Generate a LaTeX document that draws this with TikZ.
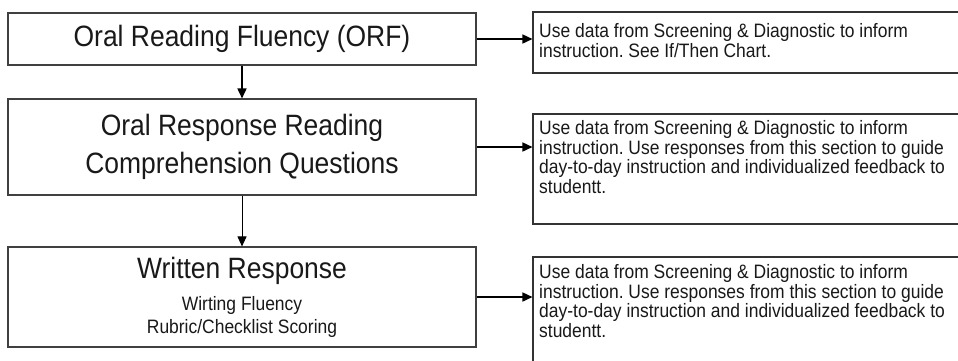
\documentclass[tikz,border=0pt]{standalone}
\usepackage{fontspec}
\setmainfont{Liberation Sans}[FakeStretch=0.9]
\usetikzlibrary{arrows.meta}
\frenchspacing

\begin{document}
\begin{tikzpicture}[x=1pt,y=-1pt,
    stagebox/.style={draw=black!75,line width=1.1pt,minimum width=468pt,inner sep=0pt,align=center,text=black!90},
    notebox/.style={draw=black!80,line width=1.1pt,minimum width=447pt,inner sep=0pt},
    notetext/.style={anchor=north west,inner sep=0pt,align=left,text=black!90,
      font=\fontsize{19.4}{19.5}\selectfont},
    flow/.style={line width=1.6pt,-{Triangle[length=10pt,width=9pt]}}]
  \useasboundingbox (0,0) rectangle (958,360);
  \clip (0,0) rectangle (958,360);
  \fill[white] (0,0) rectangle (958,360);

  % Assessment stages (left column)
  \node[stagebox,minimum height=52pt,font=\fontsize{29.4}{32}\selectfont] (orf) at (242,39)
    {Oral Reading Fluency (ORF)};
  \node[stagebox,minimum height=96pt,font=\fontsize{29.4}{38}\selectfont] (orr) at (242,147)
    {Oral Response Reading\\Comprehension Questions};
  \node[stagebox,minimum height=100pt,font=\fontsize{19.4}{23}\selectfont] (wr) at (242,297)
    {{\fontsize{29.4}{32}\selectfont Written Response}\\[9pt]Wirting Fluency\\Rubric/Checklist Scoring};

  % Instruction notes (right column)
  \node[notebox,minimum height=61pt] (r1) at (756.5,42.5) {};
  \node[notebox,minimum height=110pt] (r2) at (756.5,169) {};
  \node[notebox,minimum height=112pt] (r3) at (756.5,313) {};

  \node[notetext] (t1) at (539,23.5)
    {Use data from Screening \& Diagnostic to inform\\instruction. See If/Then Chart.};
  \node[notetext] (t2) at (539,120.5)
    {Use data from Screening \& Diagnostic to inform\\instruction. Use responses from this section to guide\\
     day-to-day instruction and individualized feedback to\\studentt.};
  \node[notetext] (t3) at (539,264.5)
    {Use data from Screening \& Diagnostic to inform\\instruction. Use responses from this section to guide\\
     day-to-day instruction and individualized feedback to\\studentt.};

  % Flow down the stages
  \draw[flow] (orf.south) -- (orr.north);
  \draw[flow,line width=0.9pt] (orr.south) -- (wr.north);

  % Stage to note
  \draw[flow] (orf.east) -- (orf.east -| r1.west);
  \draw[flow] (orr.east) -- (orr.east -| r2.west);
  \draw[flow] (wr.east) -- (wr.east -| r3.west);
\end{tikzpicture}
\end{document}
